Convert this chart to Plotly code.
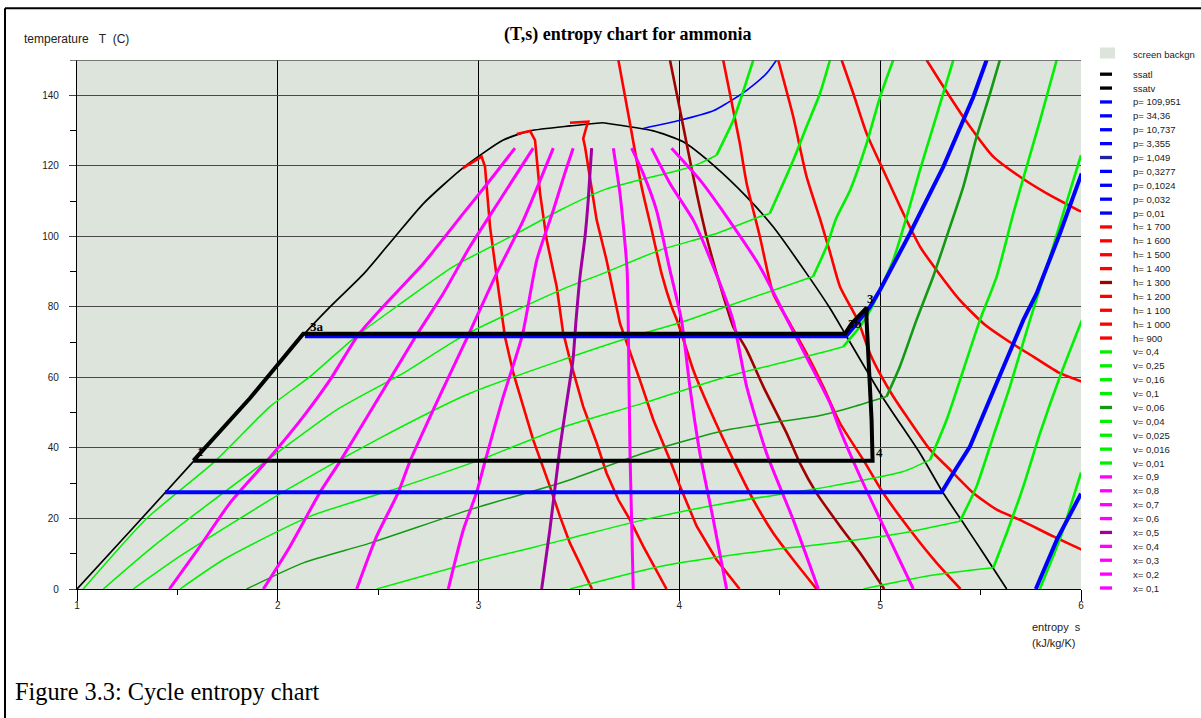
import plotly.graph_objects as go

# ---------------- data (entropy s in kJ/kg/K, temperature T in C) ----------------
ssatl_s = [1.00, 1.29, 1.58, 1.86, 2.127, 2.26, 2.43, 2.584, 2.725, 2.924, 3.123, 3.256, 3.455, 3.62]
ssatl_T = [0.0, 18.0, 36.2, 54.0, 72.0, 80.0, 89.5, 99.9, 109.3, 119.5, 127.3, 129.9, 131.3, 132.2]
ssatv_s = [3.62, 3.87, 4.019, 4.169, 4.335, 4.467, 4.633, 4.75, 4.833, 5.015, 5.198, 5.314, 5.414, 5.513, 5.63]
ssatv_T = [132.2, 129.9, 126.8, 120.2, 111.2, 102.7, 89.5, 79.6, 71.6, 54.1, 38.5, 27.2, 18.7, 10.2, 0.0]

# cycle 1 -> 3a -> 3b -> 3 -> 4 -> 1
cycle_s = [1.58, 1.86, 2.127, 4.825, 4.858, 4.932, 4.932, 4.949, 4.957, 4.962, 1.58]
cycle_T = [36.4, 54.0, 72.4, 72.4, 75.3, 79.7, 76.3, 60.2, 48.0, 36.4, 36.4]
cycle_point_names = ["1", "3a", "3b", "3", "4"]
cycle_point_s = [1.617, 2.193, 4.874, 4.954, 4.996]
cycle_point_T = [39.0, 74.5, 75.4, 82.5, 38.8]

# isobars (bar)
p109951_s = [3.82, 4.003, 4.169, 4.235, 4.335, 4.434, 4.484]
p109951_T = [130.6, 132.9, 135.6, 137.7, 141.4, 146.2, 150.0]
p3436_s = [2.135, 4.83, 4.883, 4.949, 4.999, 5.148, 5.314, 5.464, 5.53]
p3436_T = [71.7, 71.7, 75.3, 80.0, 84.8, 100.8, 119.7, 139.6, 150.0]
p10737_s = [1.438, 5.306, 5.364, 5.447, 5.58, 5.713, 5.779, 5.895, 6.003]
p10737_T = [27.4, 27.4, 32.9, 40.4, 58.4, 76.3, 83.8, 100.8, 117.8]
p3355_s = [5.775, 5.88, 6.0]
p3355_T = [0.0, 14.0, 27.0]

# isenthalps (kJ/kg)
h1700_s = [5.231, 5.331, 5.43, 5.563, 5.696, 5.829, 6.0]
h1700_T = [150.0, 141.0, 132.5, 122.6, 116.9, 112.2, 107.0]
h1600_s = [4.808, 4.866, 4.932, 5.015, 5.115, 5.198, 5.281, 5.397, 5.52, 5.63, 5.762, 5.895, 6.005]
h1600_T = [150.0, 140.5, 129.2, 118.8, 106.5, 97.1, 90.4, 81.9, 75.0, 70.6, 65.9, 61.2, 58.8]
h1500_s = [4.492, 4.567, 4.633, 4.70, 4.75, 4.80, 4.89, 4.949, 5.007, 5.065, 5.132, 5.248, 5.331, 5.464, 5.58, 5.696, 5.862, 6.005]
h1500_T = [150.0, 133.9, 117.0, 105.0, 95.5, 85.7, 76.0, 66.8, 60.2, 54.6, 48.9, 39.5, 34.8, 27.2, 22.5, 19.6, 14.9, 11.1]
h1400_s = [4.218, 4.268, 4.301, 4.335, 4.401, 4.467, 4.55, 4.633, 4.716, 4.8, 4.916, 5.015, 5.148, 5.281, 5.40]
h1400_T = [150.0, 135.8, 126.3, 115.0, 99.9, 83.8, 75.3, 66.8, 57.4, 47.0, 36.6, 27.2, 16.8, 7.4, 0.0]
h1300_s = [3.953, 4.003, 4.036, 4.086, 4.135, 4.185, 4.235, 4.268, 4.335, 4.418, 4.534, 4.6, 4.683, 4.8, 4.9, 5.02]
h1300_T = [150.0, 135.8, 126.3, 112.2, 99.9, 89.5, 80.1, 74.4, 67.8, 57.4, 44.2, 35.7, 27.2, 17.8, 10.2, 0.0]
h1200_s = [3.696, 3.754, 3.812, 3.862, 3.911, 3.961, 3.994, 4.069, 4.152, 4.268, 4.368, 4.467, 4.567, 4.683]
h1200_T = [150.0, 132.0, 114.0, 101.8, 89.5, 80.1, 75.3, 62.1, 50.8, 36.6, 25.3, 15.9, 8.3, 0.0]
h1100_s = [3.455, 3.546, 3.537, 3.521, 3.53, 3.554, 3.588, 3.637, 3.704, 3.803, 3.87, 3.953, 4.003, 4.086, 4.185, 4.30]
h1100_T = [132.2, 132.5, 131.0, 127.7, 125.4, 116.9, 104.6, 93.3, 75.3, 59.3, 48.0, 36.6, 29.1, 17.8, 8.3, 0.0]
h1000_s = [3.19, 3.256, 3.281, 3.306, 3.339, 3.389, 3.42, 3.455, 3.521, 3.588, 3.637, 3.696, 3.754, 3.82, 3.936]
h1000_T = [129.0, 129.9, 127.3, 112.2, 99.0, 85.7, 73.0, 65.0, 51.7, 41.4, 32.9, 25.3, 19.6, 12.1, 0.0]
h900_s = [2.92, 3.015, 3.032, 3.057, 3.09, 3.131, 3.173, 3.272, 3.355, 3.405, 3.455, 3.565]
h900_T = [119.3, 122.6, 119.7, 102.7, 88.6, 71.6, 61.2, 42.3, 29.1, 20.6, 13.0, 0.0]

# isochores (m3/kg); *_k = index of the point on the vapour line
v04_s = [5.795, 5.90, 6.0]
v04_T = [0.0, 15.0, 33.0]
v04_k = 0
v025_s = [4.916, 5.248, 5.563, 5.63, 5.713, 5.796, 5.895, 6.005]
v025_T = [0.0, 3.8, 6.0, 15.9, 29.1, 44.2, 60.2, 76.3]
v025_k = 2
v016_s = [3.455, 3.903, 4.335, 4.75, 5.115, 5.397, 5.48, 5.563, 5.646, 5.746, 5.85, 5.93, 6.0]
v016_T = [0.0, 6.4, 10.2, 13.0, 15.9, 19.2, 29.1, 43.3, 57.4, 76.3, 95.0, 110.0, 123.0]
v016_k = 5
v01_s = [2.492, 2.957, 3.43, 3.82, 4.235, 4.75, 5.115, 5.248, 5.331, 5.414, 5.497, 5.58, 5.663, 5.729, 5.796, 5.879]
v01_T = [0.0, 7.4, 14.0, 19.6, 24.4, 29.1, 33.3, 36.6, 48.0, 62.1, 76.3, 88.6, 106.5, 119.7, 132.9, 150.0]
v01_k = 7
v006_s = [1.845, 2.127, 2.459, 2.957, 3.43, 3.82, 4.235, 4.7, 4.866, 5.032, 5.098, 5.181, 5.264, 5.331, 5.414, 5.48, 5.547, 5.596]
v006_T = [0.0, 7.4, 13.0, 22.5, 30.5, 38.5, 45.1, 49.2, 51.7, 54.6, 63.1, 76.3, 88.6, 99.9, 114.1, 128.2, 140.5, 150.0]
v006_k = 9
v004_s = [1.513, 1.729, 2.16, 2.625, 3.007, 3.43, 3.82, 4.235, 4.7, 4.816, 4.9, 4.95, 5.065, 5.132, 5.198, 5.264, 5.364]
v004_T = [0.0, 8.3, 20.6, 29.1, 36.6, 46.1, 52.7, 60.2, 66.9, 68.7, 74.5, 79.0, 93.3, 105.6, 118.8, 131.1, 150.0]
v004_k = 9
v0025_s = [1.28, 1.513, 2.044, 2.492, 2.957, 3.43, 3.82, 4.003, 4.235, 4.666, 4.733, 4.78, 4.85, 4.932, 4.999, 5.065]
v0025_T = [0.0, 9.3, 28.1, 42.3, 55.5, 65.2, 72.5, 75.5, 80.1, 88.6, 97.1, 105.0, 113.1, 126.3, 139.5, 150.0]
v0025_k = 9
v0016_s = [1.131, 1.38, 1.928, 2.293, 2.625, 2.93, 3.43, 3.621, 3.903, 4.185, 4.401, 4.45, 4.567, 4.633, 4.70, 4.75]
v0016_T = [0.0, 12.1, 35.7, 50.8, 61.2, 72.0, 85.3, 89.5, 96.1, 100.8, 105.6, 106.5, 121.6, 131.1, 140.5, 150.0]
v0016_k = 11
v001_s = [1.031, 1.347, 1.687, 1.961, 2.16, 2.393, 2.592, 2.874, 3.19, 3.405, 3.621, 3.803, 4.003, 4.102, 4.185, 4.268, 4.368]
v001_T = [0.0, 20.0, 36.2, 51.7, 60.2, 71.8, 80.1, 91.4, 100.8, 107.4, 113.1, 116.0, 118.8, 120.7, 123.0, 132.9, 150.0]
v001_k = 14

# vapour quality lines
x09_s = [5.165, 5.032, 4.9, 4.8, 4.75, 4.64, 4.54, 4.401, 4.235, 4.102, 3.961]
x09_T = [0.0, 15.9, 31.9, 45.1, 52.7, 65.0, 76.0, 91.4, 105.6, 116.0, 125.0]
x08_s = [4.692, 4.567, 4.434, 4.335, 4.268, 4.169, 4.069, 3.953, 3.861]
x08_T = [0.0, 19.6, 38.5, 57.4, 76.0, 91.4, 104.6, 115.0, 125.0]
x07_s = [4.235, 4.169, 4.102, 4.052, 4.011, 3.953, 3.886, 3.82, 3.762]
x07_T = [0.0, 19.6, 38.5, 57.4, 76.0, 90.4, 107.4, 117.8, 125.0]
x06_s = [3.77, 3.754, 3.745, 3.74, 3.729, 3.704, 3.671]
x06_T = [0.0, 38.5, 76.0, 90.0, 98.0, 112.2, 125.0]
x05_s = [3.314, 3.355, 3.405, 3.438, 3.47, 3.485, 3.505, 3.53, 3.546, 3.563]
x05_T = [0.0, 16.8, 40.0, 52.7, 65.0, 76.0, 88.6, 99.9, 110.3, 125.0]
x04_s = [2.849, 2.924, 2.99, 3.032, 3.123, 3.218, 3.29, 3.372, 3.43, 3.471]
x04_T = [0.0, 16.8, 27.4, 36.2, 54.6, 72.0, 93.3, 107.4, 118.0, 125.0]
x03_s = [2.393, 2.492, 2.60, 2.658, 2.80, 2.949, 3.09, 3.223, 3.372]
x03_T = [0.0, 14.9, 27.4, 36.2, 54.0, 72.0, 89.5, 104.6, 125.0]
x02_s = [1.928, 2.06, 2.21, 2.31, 2.50, 2.691, 2.824, 2.957, 3.106, 3.272]
x02_T = [0.0, 12.0, 27.4, 36.2, 54.0, 72.0, 83.8, 97.1, 110.3, 125.0]
x01_s = [1.46, 1.60, 1.762, 1.944, 2.127, 2.26, 2.40, 2.525, 2.725, 2.924, 3.057, 3.181]
x01_T = [0.0, 11.1, 24.4, 36.2, 48.9, 59.3, 72.0, 80.1, 92.3, 106.5, 115.9, 125.0]

# legend texts
sat_labels = ["ssatl", "ssatv"]
p_labels = ["p= 109,951", "p= 34,36", "p= 10,737", "p= 3,355", "p= 1,049",
            "p= 0,3277", "p= 0,1024", "p= 0,032", "p= 0,01"]
h_labels = ["h= 1 700", "h= 1 600", "h= 1 500", "h= 1 400", "h= 1 300",
            "h= 1 200", "h= 1 100", "h= 1 000", "h= 900"]
v_labels = ["v= 0,4", "v= 0,25", "v= 0,16", "v= 0,1", "v= 0,06",
            "v= 0,04", "v= 0,025", "v= 0,016", "v= 0,01"]
x_labels = ["x= 0,9", "x= 0,8", "x= 0,7", "x= 0,6", "x= 0,5",
            "x= 0,4", "x= 0,3", "x= 0,2", "x= 0,1"]
x_ticks = [1, 2, 3, 4, 5, 6]
y_ticks = [0, 20, 40, 60, 80, 100, 120, 140]

# ---------------- styles ----------------
BG = "#dce4dc"
BLUE, DBLUE = "#0000ff", "#22229a"
RED, DRED = "#ff0000", "#a00000"
GREEN, DGREEN = "#00f000", "#139913"
MAG, PURPLE = "#ff00ff", "#a000a0"

p_colors = [BLUE, BLUE, BLUE, BLUE, DBLUE, BLUE, BLUE, BLUE, BLUE]
h_colors = [RED, RED, RED, RED, DRED, RED, RED, RED, RED]
v_colors = [GREEN, GREEN, GREEN, GREEN, DGREEN, GREEN, GREEN, GREEN, GREEN]
x_colors = [MAG, MAG, MAG, MAG, PURPLE, MAG, MAG, MAG, MAG]
# isenthalps with a sharp liquid-side corner are drawn straight, the rest smoothed
h_shapes = ["spline"] * 6 + ["linear", "linear", "linear"]

p_curves = [(p109951_s, p109951_T, 1.6), (p3436_s, p3436_T, 4), (p10737_s, p10737_T, 4), (p3355_s, p3355_T, 4)]
h_curves = [(h1700_s, h1700_T), (h1600_s, h1600_T), (h1500_s, h1500_T), (h1400_s, h1400_T), (h1300_s, h1300_T),
            (h1200_s, h1200_T), (h1100_s, h1100_T), (h1000_s, h1000_T), (h900_s, h900_T)]
v_curves = [(v04_s, v04_T, v04_k), (v025_s, v025_T, v025_k), (v016_s, v016_T, v016_k), (v01_s, v01_T, v01_k),
            (v006_s, v006_T, v006_k), (v004_s, v004_T, v004_k), (v0025_s, v0025_T, v0025_k),
            (v0016_s, v0016_T, v0016_k), (v001_s, v001_T, v001_k)]
x_curves = [(x09_s, x09_T), (x08_s, x08_T), (x07_s, x07_T), (x06_s, x06_T), (x05_s, x05_T),
            (x04_s, x04_T), (x03_s, x03_T), (x02_s, x02_T), (x01_s, x01_T)]

fig = go.Figure()


def add_line(s, T, color, width, name, shape="linear"):
    line = dict(color=color, width=width, shape=shape)
    if shape == "spline":
        line["smoothing"] = 0.6
    fig.add_trace(go.Scatter(x=s, y=T, mode="lines", name=name, line=line,
                             showlegend=False, hoverinfo="skip"))


add_line(ssatl_s, ssatl_T, "black", 1.7, "ssatl", "spline")
add_line(ssatv_s, ssatv_T, "black", 1.7, "ssatv", "spline")
s_, T_, w_ = p_curves[0]
add_line(s_, T_, p_colors[0], w_, p_labels[0], "spline")
for (s_, T_), c, lab, shp in zip(h_curves, h_colors, h_labels, h_shapes):
    add_line(s_, T_, c, 2.6, lab, shp)
for (s_, T_, k), c, lab in zip(v_curves, v_colors, v_labels):
    if k > 0:
        add_line(s_[:k + 1], T_[:k + 1], c, 1.5, lab, "spline")
    add_line(s_[k:], T_[k:], c, 2.6, lab, "spline")
for (s_, T_), c, lab in zip(x_curves, x_colors, x_labels):
    add_line(s_, T_, c, 3, lab, "spline")
for (s_, T_, w_), c, lab in list(zip(p_curves, p_colors, p_labels))[1:]:
    add_line(s_, T_, c, w_, lab)
add_line(cycle_s, cycle_T, "black", 4, "cycle")

# ---------------- layout helpers (pixel -> paper) ----------------
W, H = 1201, 718
PL, PR, PT, PB = 77, 1081, 59.8, 589.3


def pxx(px):
    return (px - PL) / (PR - PL)


def pxy(py):
    return (PB - py) / (PB - PT)


shapes = []
annotations = []

# cycle point labels
for name, s_, T_ in zip(cycle_point_names, cycle_point_s, cycle_point_T):
    annotations.append(dict(x=s_, y=T_, xref="x", yref="y", text="<b>" + name + "</b>", showarrow=False,
                            font=dict(family="Liberation Serif", size=13, color="black"),
                            xanchor="center", yanchor="middle"))

# top border of plot at T=150
shapes.append(dict(type="line", xref="paper", yref="y", x0=pxx(70), x1=1, y0=150, y1=150,
                   line=dict(color="#555555", width=1.5)))
# outer frame (document box)
shapes.append(dict(type="line", xref="paper", yref="paper", x0=pxx(5), x1=pxx(5), y0=pxy(8), y1=pxy(720),
                   line=dict(color="black", width=2)))
shapes.append(dict(type="line", xref="paper", yref="paper", x0=pxx(5), x1=pxx(1203), y0=pxy(8), y1=pxy(8),
                   line=dict(color="black", width=2)))

# manual legend
LEG_LINE_X0, LEG_LINE_X1, LEG_TEXT_X = 1100, 1112, 1131
leg_font = dict(family="Liberation Sans", size=9.5, color="#222222")
shapes.append(dict(type="rect", xref="paper", yref="paper", x0=pxx(1100), x1=pxx(1115), y0=pxy(58.3), y1=pxy(47.3),
                   fillcolor=BG, line=dict(width=0)))
annotations.append(dict(x=pxx(LEG_TEXT_X), y=pxy(54), xref="paper", yref="paper", text="screen backgn",
                        showarrow=False, xanchor="left", yanchor="middle", font=leg_font))
leg_labels = sat_labels + p_labels + h_labels + v_labels + x_labels
leg_colors = ["black", "black"] + p_colors + h_colors + v_colors + x_colors
for i, (lab, col) in enumerate(zip(leg_labels, leg_colors)):
    py = 74 + i * 13.9
    shapes.append(dict(type="line", xref="paper", yref="paper", x0=pxx(LEG_LINE_X0), x1=pxx(LEG_LINE_X1),
                       y0=pxy(py), y1=pxy(py), line=dict(color=col, width=3.3)))
    annotations.append(dict(x=pxx(LEG_TEXT_X), y=pxy(py), xref="paper", yref="paper", text=lab,
                            showarrow=False, xanchor="left", yanchor="middle", font=leg_font))

# titles
annotations.append(dict(x=pxx(627), y=pxy(34), xref="paper", yref="paper",
                        text="<b>(T,s) entropy chart for ammonia</b>", showarrow=False,
                        xanchor="center", yanchor="middle",
                        font=dict(family="Liberation Serif", size=18, color="black")))
annotations.append(dict(x=pxx(22), y=pxy(39), xref="paper", yref="paper",
                        text="temperature\u00a0\u00a0\u00a0T\u00a0\u00a0(C)", showarrow=False,
                        xanchor="left", yanchor="middle",
                        font=dict(family="Liberation Sans", size=12, color="#222222")))
annotations.append(dict(x=pxx(1030), y=pxy(627), xref="paper", yref="paper", text="entropy\u00a0\u00a0s",
                        showarrow=False, xanchor="left", yanchor="middle",
                        font=dict(family="Liberation Sans", size=11, color="#222222")))
annotations.append(dict(x=pxx(1030), y=pxy(643), xref="paper", yref="paper", text="(kJ/kg/K)",
                        showarrow=False, xanchor="left", yanchor="middle",
                        font=dict(family="Liberation Sans", size=11, color="#222222")))
annotations.append(dict(x=pxx(13), y=pxy(692), xref="paper", yref="paper", text="Figure 3.3: Cycle entropy chart",
                        showarrow=False, xanchor="left", yanchor="middle",
                        font=dict(family="Liberation Serif", size=24.3, color="black")))

fig.update_layout(
    width=W, height=H,
    margin=dict(l=PL, r=W - PR, t=PT, b=H - PB, autoexpand=False),
    paper_bgcolor="white", plot_bgcolor=BG,
    showlegend=False,
    shapes=shapes, annotations=annotations,
    xaxis=dict(range=[1, 6], tickvals=x_ticks, ticktext=[str(t) for t in x_ticks],
               showgrid=True, gridcolor="black", gridwidth=1, zeroline=False,
               showline=True, linecolor="black", linewidth=1.2,
               ticks="outside", ticklen=11, tickcolor="black", tickwidth=1,
               ticklabelstandoff=-4,
               tickfont=dict(family="Liberation Sans", size=10, color="#222222"),
               minor=dict(tickvals=[1.5, 2.5, 3.5, 4.5, 5.5], ticks="outside", ticklen=5,
                          tickcolor="black", showgrid=False),
               automargin=False, fixedrange=True),
    yaxis=dict(range=[0, 150], tickvals=y_ticks, ticktext=[str(t) for t in y_ticks],
               showgrid=True, gridcolor="#4a4a4a", gridwidth=1.3, zeroline=False,
               showline=True, linecolor="black", linewidth=1.2,
               ticks="outside", ticklen=7, tickcolor="#444444", tickwidth=1,
               ticklabelstandoff=8,
               tickfont=dict(family="Liberation Sans", size=10, color="#222222"),
               minor=dict(tickvals=[10, 30, 50, 70, 90, 110, 130], ticks="outside", ticklen=6,
                          tickcolor="black", showgrid=False),
               automargin=False, fixedrange=True),
)

fig.write_html("out.html", config={"displayModeBar": False},
               post_script="document.body.style.margin='0px';document.body.style.padding='0px';")
